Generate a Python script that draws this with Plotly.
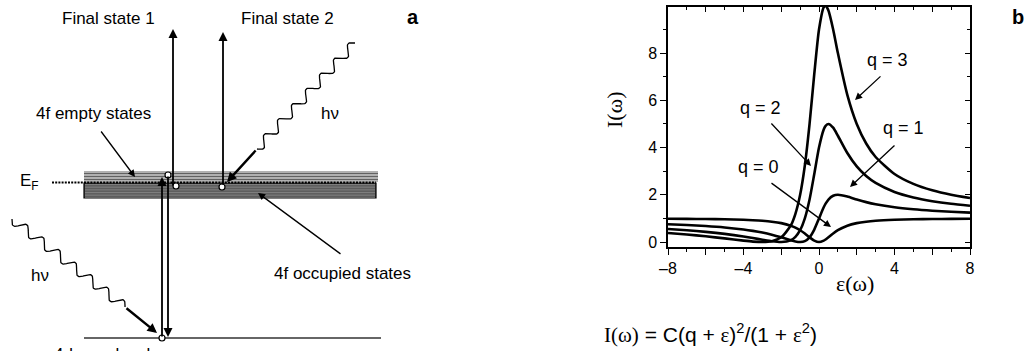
import numpy as np
import plotly.graph_objects as go

# ---------------- Panel b data ----------------
eps = [-8, -7, -6, -5, -4, -3.5, -3, -2.5, -2, -1.5, -1.25, -1, -0.75, -0.5, -0.25,
       0, 0.25, 0.35, 0.5, 0.75, 1, 1.5, 2, 2.5, 3, 4, 5, 6, 7, 8]
I_q0 = [0.985, 0.98, 0.973, 0.962, 0.941, 0.925, 0.900, 0.862, 0.800, 0.692, 0.610, 0.500, 0.360, 0.200, 0.059,
        0.0, 0.059, 0.109, 0.200, 0.360, 0.500, 0.692, 0.800, 0.862, 0.900, 0.941, 0.962, 0.973, 0.98, 0.985]
I_q1 = [0.754, 0.72, 0.676, 0.615, 0.529, 0.472, 0.400, 0.310, 0.200, 0.077, 0.024, 0.0, 0.040, 0.200, 0.529,
        1.0, 1.471, 1.624, 1.800, 1.960, 2.000, 1.923, 1.800, 1.690, 1.600, 1.471, 1.385, 1.324, 1.28, 1.246]
I_q2 = [0.554, 0.50, 0.432, 0.346, 0.235, 0.170, 0.100, 0.034, 0.0, 0.077, 0.220, 0.500, 1.000, 1.800, 2.882,
        4.0, 4.765, 4.920, 5.000, 4.840, 4.500, 3.769, 3.200, 2.793, 2.500, 2.118, 1.885, 1.730, 1.62, 1.538]
I_q3 = [0.385, 0.32, 0.243, 0.154, 0.059, 0.019, 0.0, 0.034, 0.200, 0.692, 1.195, 2.000, 3.240, 5.000, 7.118,
        9.0, 9.941, 9.998, 9.800, 9.000, 8.000, 6.231, 5.000, 4.172, 3.600, 2.882, 2.462, 2.189, 2.0, 1.862]
series = [("q = 0", I_q0), ("q = 1", I_q1), ("q = 2", I_q2), ("q = 3", I_q3)]

x_major = [-8, -6, -4, -2, 0, 2, 4, 6, 8]
x_labels = ["\u20138", "", "\u20134", "", "0", "", "4", "", "8"]
y_major = [0, 2, 4, 6, 8]
y_labels = ["0", "2", "4", "6", "8"]

W, H = 1026, 351
SANS = "Liberation Sans, Arial, Helvetica, sans-serif"
SERIF = "Liberation Serif, Times New Roman, serif"

fig = go.Figure()

# ---------------- Panel b ----------------
for name, vals in series:
    fig.add_trace(go.Scatter(x=eps, y=vals, mode="lines", name=name,
                             line=dict(color="black", width=2.6, shape="spline", smoothing=0.6),
                             xaxis="x", yaxis="y", showlegend=False, hoverinfo="skip"))

xdom = [668 / W, 970 / W]
ydom = [1 - 247 / H, 1 - 7 / H]
yr = [-0.21, 9.95]
tickfont = dict(family=SANS, size=16, color="black")

fig.update_layout(
    template="none",
    font=dict(family=SANS, size=16, color="black"),
    xaxis=dict(domain=xdom, range=[-8, 8], anchor="y", showgrid=False, zeroline=False, automargin=False,
               showline=True, linecolor="black", linewidth=1.5,
               tickmode="array", tickvals=x_major, ticktext=x_labels,
               ticks="outside", ticklen=6, tickwidth=1.3, tickcolor="black",
               minor=dict(dtick=1, tick0=0, ticks="outside", ticklen=3, tickwidth=1.2, tickcolor="black",
                          showgrid=False),
               tickfont=tickfont, fixedrange=True),
    yaxis=dict(domain=ydom, range=yr, anchor="x", showgrid=False, zeroline=False, automargin=False,
               showline=True, linecolor="black", linewidth=1.5,
               tickmode="array", tickvals=y_major, ticktext=y_labels,
               ticks="outside", ticklen=6, tickwidth=1.3, tickcolor="black",
               minor=dict(dtick=1, tick0=0, ticks="outside", ticklen=3, tickwidth=1.2, tickcolor="black",
                          showgrid=False),
               tickfont=tickfont, fixedrange=True),
    xaxis3=dict(overlaying="x", anchor="y", side="top", range=[-8, 8], showgrid=False, zeroline=False,
                automargin=False, showline=True, linecolor="black", linewidth=1.5,
                tickmode="array", tickvals=x_major, showticklabels=False,
                ticks="inside", ticklen=5, tickwidth=1.3, tickcolor="black",
                minor=dict(dtick=1, tick0=0, ticks="inside", ticklen=3, tickwidth=1.2, tickcolor="black",
                           showgrid=False),
                fixedrange=True),
    yaxis3=dict(overlaying="y", anchor="x", side="right", range=yr, showgrid=False, zeroline=False,
                automargin=False, showline=True, linecolor="black", linewidth=1.5,
                tickmode="array", tickvals=y_major, showticklabels=False,
                ticks="inside", ticklen=5, tickwidth=1.3, tickcolor="black",
                minor=dict(dtick=1, tick0=0, ticks="inside", ticklen=3, tickwidth=1.2, tickcolor="black",
                           showgrid=False),
                fixedrange=True),
    # Panel a coordinate system (pixel-like units)
    xaxis2=dict(domain=[0, 430 / W], range=[0, 430], visible=False, fixedrange=True, automargin=False),
    yaxis2=dict(domain=[0, 1], range=[H, 0], visible=False, fixedrange=True, automargin=False),
)
# dummy traces so overlay axes render
fig.add_trace(go.Scatter(x=[None], y=[None], xaxis="x3", yaxis="y3", showlegend=False, hoverinfo="skip"))
fig.add_trace(go.Scatter(x=[None], y=[None], xaxis="x2", yaxis="y2", showlegend=False, hoverinfo="skip"))

annotations = []
shapes = []


def ptext(px, py, text, size=17, family=SANS, bold=False, xanchor="center", yanchor="middle", angle=0):
    if bold:
        text = "<b>" + text + "</b>"
    annotations.append(dict(x=px / W, y=1 - py / H, xref="paper", yref="paper", text=text,
                            showarrow=False, xanchor=xanchor, yanchor=yanchor, textangle=angle,
                            font=dict(family=family, size=size, color="black")))


def parrow(tx, ty, hx, hy, width=1.3, size=1.1, head=2):
    annotations.append(dict(x=hx / W, y=1 - hy / H, xref="paper", yref="paper",
                            ax=tx - hx, ay=ty - hy, axref="pixel", ayref="pixel",
                            text="", showarrow=True, arrowhead=head, arrowsize=size,
                            arrowwidth=width, arrowcolor="black", standoff=0, startstandoff=0))


# Panel b labels
ptext(887, 60, "q = 3", size=18)
parrow(882, 75, 855, 100)
ptext(760, 108, "q = 2", size=18)
parrow(770, 122, 811, 166)
ptext(903, 128, "q = 1", size=18)
parrow(896, 144, 850, 187)
ptext(758, 167, "q = 0", size=18)
parrow(770, 182, 831, 227)
ptext(1018, 17, "b", size=20, bold=True)
ptext(615, 110, "I(\u03c9)", size=22, family=SERIF, angle=-90)
ptext(855, 283, "\u03b5(\u03c9)", size=22, family=SERIF)
formula = ('<span style="font-family:Liberation Serif">I(\u03c9)</span> = C(q + '
           '<span style="font-family:Liberation Serif">\u03b5</span>)<sup>2</sup>/(1 + '
           '<span style="font-family:Liberation Serif">\u03b5</span><sup>2</sup>)')
ptext(602, 333, formula, size=21, xanchor="left")

# ---------------- Panel a (schematic) ----------------
def aline(x0, y0, x1, y1, color="black", width=1.0, dash=None):
    d = dict(type="line", xref="x2", yref="y2", x0=x0, y0=y0, x1=x1, y1=y1,
             line=dict(color=color, width=width))
    if dash:
        d["line"]["dash"] = dash
    shapes.append(d)


def aarrow(tx, ty, hx, hy, width=1.8, size=1.0, head=2):
    annotations.append(dict(x=hx, y=hy, xref="x2", yref="y2", ax=tx, ay=ty, axref="x2", ayref="y2",
                            text="", showarrow=True, arrowhead=head, arrowsize=size,
                            arrowwidth=width, arrowcolor="black", standoff=0, startstandoff=0))


def circle(cx, cy, r=3):
    shapes.append(dict(type="circle", xref="x2", yref="y2", x0=cx - r, x1=cx + r, y0=cy - r, y1=cy + r,
                       fillcolor="white", line=dict(color="black", width=1.2), layer="above"))


def wave(p0, p1, periods, amp):
    p0 = np.array(p0, float)
    p1 = np.array(p1, float)
    d = p1 - p0
    L = np.hypot(*d)
    n = np.array([-d[1], d[0]]) / L
    t = np.linspace(0, 1, 300)
    pts = p0[None, :] + t[:, None] * d[None, :] + amp * np.sin(2 * np.pi * periods * t)[:, None] * n[None, :]
    fig.add_trace(go.Scatter(x=pts[:, 0], y=pts[:, 1], mode="lines", xaxis="x2", yaxis="y2",
                             line=dict(color="black", width=1.3), showlegend=False, hoverinfo="skip"))


# Band: 4f empty states (upper, light stripes)
for yy in np.arange(172, 181.5, 1.5):
    aline(84, yy, 378, yy, color="#505050", width=0.9)
# 4f occupied states (lower, dark block)
shapes.append(dict(type="rect", xref="x2", yref="y2", x0=84, x1=376, y0=183, y1=198,
                   fillcolor="#4a4a4a", line=dict(color="black", width=1.2)))
for yy in np.arange(184.5, 197.5, 1.6):
    aline(85, yy, 375, yy, color="#959595", width=0.7)
# Fermi level dotted line
aline(52, 182.5, 376, 182.5, color="black", width=2.2, dash="2px,1.2px")
# Core level
aline(84, 338, 381, 338, color="#333333", width=1.4)

# Vertical transitions
aarrow(173, 187, 173, 29, width=1.8)
aarrow(223, 186, 223, 32, width=1.8)
aarrow(162, 338, 162, 177, width=1.8)
aarrow(168, 175, 168, 337, width=1.8)

# pointers
aarrow(100, 130, 135, 177, width=1.3, size=1.1)
aarrow(342, 255, 258, 193, width=1.3, size=1.1)

# photons
wave((355, 43), (257, 149), 7, 4.6)
aarrow(257, 149, 227, 182, width=2.4, size=0.8)
wave((12, 219), (125, 307), 7, 4.6)
aarrow(125, 307, 157, 333, width=2.4, size=0.8)

# open circles (holes / electrons)
circle(168, 175)
circle(176, 186)
circle(222, 187)
circle(162, 338)

# texts
ptext(108, 19, "Final state 1")
ptext(287, 19, "Final state 2")
ptext(413, 17, "a", size=20, bold=True)
ptext(93, 113, "4f empty states")
ptext(330, 113, "h\u03bd")
ptext(40, 275, "h\u03bd")
ptext(342, 273, "4f occupied states")
ptext(29, 182, "E<sub>F</sub>", size=17)
ptext(102, 343, "4d core level", size=17, yanchor="top")

fig.update_layout(width=W, height=H, margin=dict(l=0, r=0, t=0, b=0, autoexpand=False),
                  paper_bgcolor="white", plot_bgcolor="rgba(0,0,0,0)",
                  annotations=annotations, shapes=shapes, showlegend=False)

fig.write_html("out.html")
